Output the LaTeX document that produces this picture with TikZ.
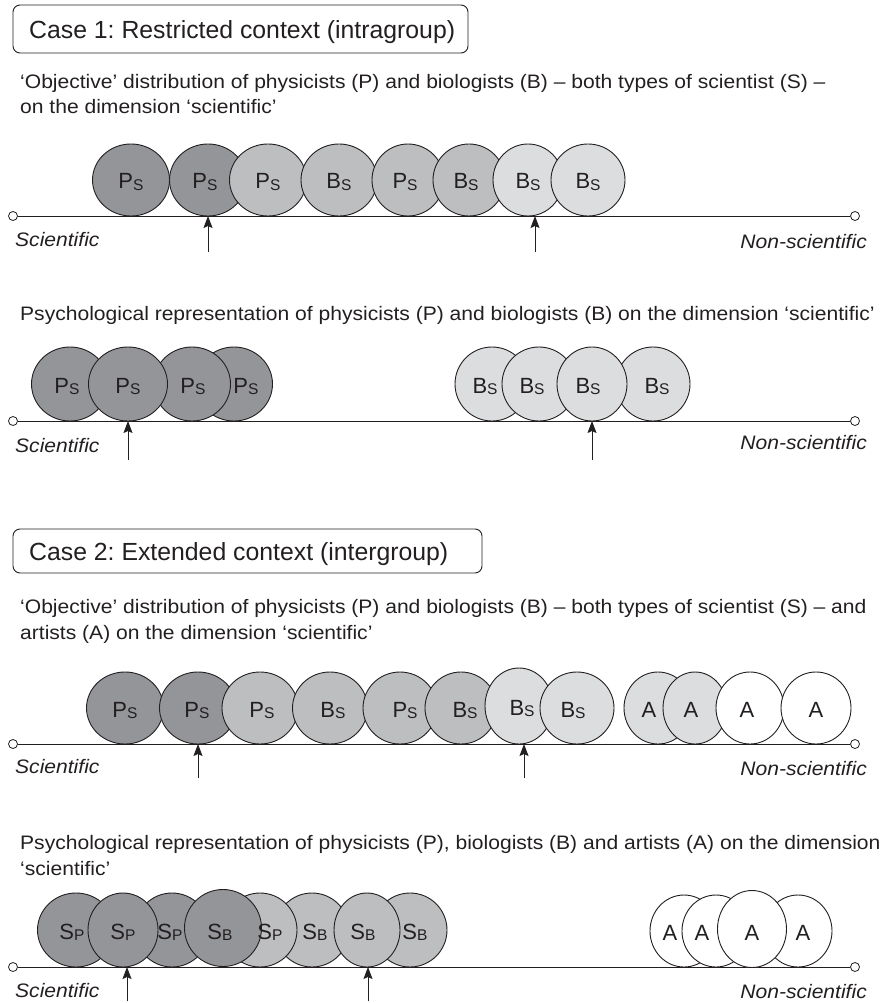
\documentclass[tikz,border=0pt]{standalone}
\usepackage{fontspec}
\setmainfont{Liberation Sans}
\newfontfamily\widesans[FakeStretch=1.08]{Liberation Sans}
\frenchspacing
\usetikzlibrary{shapes.geometric,arrows.meta}

\definecolor{inkc}{HTML}{231F20}
\definecolor{darkg}{HTML}{939598}
\definecolor{midg}{HTML}{BCBEC0}
\definecolor{lightg}{HTML}{DCDDDF}

\tikzset{
  blobshape/.style={ellipse, draw=inkc, line width=0.9pt, inner sep=0pt},
  blobtext/.style={anchor=base, inner sep=0pt, font=\fontsize{22}{22}\selectfont, text=inkc},
  axisline/.style={draw=inkc, line width=0.9pt},
  endmark/.style={circle, draw=inkc, fill=white, line width=0.8pt, minimum size=9pt, inner sep=0pt},
  pointer/.style={draw=inkc, line width=0.9pt, -{Stealth[length=12pt,width=9pt,inset=2pt]}},
  polelabel/.style={font=\widesans\fontsize{19.5}{19.5}\selectfont\itshape, inner sep=0pt, text=inkc},
  bodytext/.style={font=\widesans\fontsize{19.5}{19.5}\selectfont, inner sep=0pt, anchor=base west, text=inkc},
  casetext/.style={font=\fontsize{24.8}{24.8}\selectfont, inner sep=0pt, anchor=base west, text=inkc},
  casebox/.style={draw=inkc, rounded corners=7pt, line width=0.9pt}
}

% small subscript letter set close to the baseline
\newcommand\subl[1]{\raisebox{-1.5pt}{\fontsize{15.5}{15.5}\selectfont #1}}
% \blob{name}{x}{y centre}{width}{height}{fill}{label}{label x}
\newcommand\blob[8]{%
  \node[blobshape, fill=#6, minimum width=#4pt, minimum height=#5pt] (#1) at (#2,#3) {};
  \node[blobtext] (#1t) at (#8,#3+9) {#7};
}
% \axisrow{name}{y}
\newcommand\axisrow[2]{%
  \node[endmark] (#1l) at (13,#2) {};
  \node[endmark] (#1r) at (855,#2) {};
  \draw[axisline] (#1l) -- (#1r);
}
% \marker{name}{x}{axis y}{tail y}
\newcommand\marker[4]{%
  \coordinate (#1tip) at (#2,#3);
  \coordinate (#1tail) at (#2,#4);
  \draw[pointer] (#1tail) -- (#1tip);
}

\begin{document}
\begin{tikzpicture}[x=1pt, y=-1pt]
\useasboundingbox (0,0) rectangle (885,1003);

% ---------- Case 1 ----------
\draw[casebox] (13,5) rectangle (468,53);
\node[casetext] (case1) at (29,39) {Case 1: Restricted context (intragroup)};
\node[bodytext] (obj1a) at (20,89) {‘Objective’ distribution of physicists (P) and biologists (B) – both types of scientist (S) –};
\node[bodytext] (obj1b) at (20,114) {on the dimension ‘scientific’};

% objective distribution, restricted context
\axisrow{ax1}{216}
\blob{a1}{131}{180}{77}{72}{darkg}{P\subl{S}}{131}
\blob{a2}{208}{180}{77}{72}{darkg}{P\subl{S}}{205}
\blob{a3}{268}{180}{77}{72}{midg}{P\subl{S}}{268}
\blob{a4}{339}{180}{76}{72}{midg}{B\subl{S}}{339}
\blob{a5}{408}{180}{72}{72}{midg}{P\subl{S}}{405}
\blob{a6}{469}{180}{72}{72}{midg}{B\subl{S}}{466}
\blob{a7}{528}{180}{70}{72}{lightg}{B\subl{S}}{528}
\blob{a8}{588}{180}{74}{72}{lightg}{B\subl{S}}{588}
\marker{m1}{208}{216}{252}
\marker{m2}{535}{216}{252}
\node[polelabel, anchor=base west] (sci1) at (15,246) {Scientific};
\node[polelabel, anchor=base east] (non1) at (867,248) {Non-scientific};

% psychological representation, restricted context
\node[bodytext] (psy1) at (20,320) {Psychological representation of physicists (P) and biologists (B) on the dimension ‘scientific’};
\axisrow{ax2}{421}
\blob{b1}{70}{384}{77}{74}{darkg}{}{70}
\blob{b4}{234}{384}{77}{74}{darkg}{}{234}
\blob{b3}{192}{384}{77}{74}{darkg}{}{192}
\blob{b2}{128}{384}{79}{74}{darkg}{}{128}
\node[blobtext] (b1l) at (67,393) {P\subl{S}};
\node[blobtext] (b2l) at (128,393) {P\subl{S}};
\node[blobtext] (b3l) at (193,393) {P\subl{S}};
\node[blobtext] (b4l) at (246,393) {P\subl{S}};
\blob{c1}{492}{384}{74}{74}{lightg}{}{492}
\blob{c2}{539}{384}{74}{74}{lightg}{}{539}
\blob{c4}{653}{384}{74}{74}{lightg}{}{653}
\blob{c3}{592}{384}{70}{74}{lightg}{}{592}
\node[blobtext] (c1l) at (485,393) {B\subl{S}};
\node[blobtext] (c2l) at (532,393) {B\subl{S}};
\node[blobtext] (c3l) at (588,393) {B\subl{S}};
\node[blobtext] (c4l) at (657,393) {B\subl{S}};
\marker{m3}{128}{421}{460}
\marker{m4}{592}{421}{460}
\node[polelabel, anchor=base west] (sci2) at (15,452) {Scientific};
\node[polelabel, anchor=base east] (non2) at (867,449) {Non-scientific};

% ---------- Case 2 ----------
\draw[casebox] (13,529) rectangle (482,573);
\node[casetext] (case2) at (29,560) {Case 2: Extended context (intergroup)};
\node[bodytext] (obj2a) at (20,613) {‘Objective’ distribution of physicists (P) and biologists (B) – both types of scientist (S) – and};
\node[bodytext] (obj2b) at (20,639) {artists (A) on the dimension ‘scientific’};

% objective distribution, extended context
\axisrow{ax3}{744}
\blob{d1}{125}{708}{77}{72}{darkg}{P\subl{S}}{125}
\blob{d2}{198}{708}{77}{72}{darkg}{P\subl{S}}{197}
\blob{d3}{260}{708}{76}{72}{midg}{P\subl{S}}{262}
\blob{d4}{330}{708}{75}{72}{midg}{B\subl{S}}{333}
\blob{d5}{400}{708}{74}{72}{midg}{P\subl{S}}{405}
\blob{d6}{461}{708}{72}{72}{midg}{B\subl{S}}{465}
\blob{d7}{519}{706}{68}{76}{lightg}{B\subl{S}}{522}
\blob{d8}{577}{708}{74}{72}{lightg}{B\subl{S}}{573}
\blob{d9}{658}{708}{68}{72}{lightg}{A}{649}
\blob{d10}{695}{708}{64}{72}{lightg}{A}{691}
\blob{d11}{750}{708}{68}{72}{white}{A}{747}
\blob{d12}{816}{708}{70}{72}{white}{A}{816}
\marker{m5}{198}{744}{778}
\marker{m6}{524}{744}{778}
\node[polelabel, anchor=base west] (sci3) at (15,773) {Scientific};
\node[polelabel, anchor=base east] (non3) at (867,775) {Non-scientific};

% psychological representation, extended context
\node[bodytext] (psy2a) at (20,849) {Psychological representation of physicists (P), biologists (B) and artists (A) on the dimension};
\node[bodytext] (psy2b) at (20,875) {‘scientific’};
\axisrow{ax4}{967}
\blob{e1}{76}{930}{77}{74}{darkg}{}{76}
\blob{e3}{172}{930}{74}{74}{darkg}{}{172}
\blob{e2}{123}{930}{70}{74}{darkg}{}{123}
\blob{e6}{312}{930}{74}{74}{midg}{}{312}
\blob{e5}{260}{930}{74}{74}{midg}{}{260}
\blob{e4}{223}{928}{77}{77}{darkg}{}{223}
\blob{e8}{410}{930}{74}{74}{midg}{}{410}
\blob{e7}{367}{930}{66}{74}{midg}{}{367}
\node[blobtext] (e1l) at (72,939) {S\subl{P}};
\node[blobtext] (e2l) at (123,939) {S\subl{P}};
\node[blobtext] (e3l) at (170,939) {S\subl{P}};
\node[blobtext] (e4l) at (220,939) {S\subl{B}};
\node[blobtext] (e5l) at (270,939) {S\subl{P}};
\node[blobtext] (e6l) at (315,939) {S\subl{B}};
\node[blobtext] (e7l) at (363,939) {S\subl{B}};
\node[blobtext] (e8l) at (415,939) {S\subl{B}};
\blob{f1}{684}{931}{68}{72}{white}{}{684}
\blob{f2}{716}{931}{68}{72}{white}{}{716}
\blob{f4}{798}{931}{68}{72}{white}{}{798}
\blob{f3}{752}{929}{69}{77}{white}{}{752}
\node[blobtext] (f1l) at (670,940) {A};
\node[blobtext] (f2l) at (702,940) {A};
\node[blobtext] (f3l) at (752,940) {A};
\node[blobtext] (f4l) at (803,940) {A};
\marker{m7}{127}{967}{1001}
\marker{m8}{368}{967}{1001}
\node[polelabel, anchor=base west] (sci4) at (15,997) {Scientific};
\node[polelabel, anchor=base east] (non4) at (867,998) {Non-scientific};
\end{tikzpicture}
\end{document}
